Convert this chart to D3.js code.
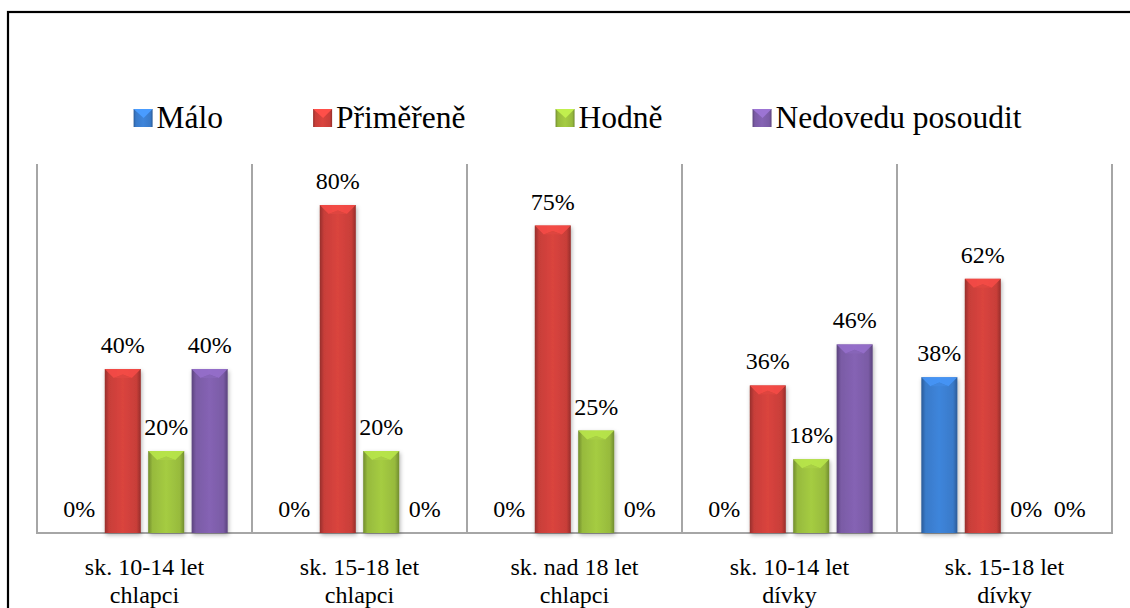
<!DOCTYPE html>
<html>
<head>
<meta charset="UTF-8">
<script src="https://d3js.org/d3.v7.min.js"></script>
</head>
<body style="margin:0">
<script>
// data
const categories = [
  ["sk. 10-14 let", "chlapci"],
  ["sk. 15-18 let", "chlapci"],
  ["sk. nad 18 let", "chlapci"],
  ["sk. 10-14 let", "dívky"],
  ["sk. 15-18 let", "dívky"]
];
const seriesNames = ["Málo", "Přiměřeně", "Hodně", "Nedovedu posoudit"];
const malo      = [0, 0, 0, 0, 38];
const primerene = [40, 80, 75, 36, 62];
const hodne     = [20, 20, 25, 18, 0];
const nedovedu  = [40, 0, 0, 46, 0];
const seriesValues = [malo, primerene, hodne, nedovedu];
const colors = ["#3b7ed0", "#cf403b", "#9cc13f", "#7e5eab"];

const W = 1130, H = 608;
const plot = {left: 37, right: 1112, top: 164, bottom: 533};

const svg = d3.select("body").append("svg")
  .attr("width", W).attr("height", H)
  .style("display", "block")
  .style("font-family", "'Liberation Serif'");

const defs = svg.append("defs");
colors.forEach(function (c, i) {
  const g = defs.append("linearGradient").attr("id", "grad" + i)
    .attr("x1", "0%").attr("x2", "100%").attr("y1", "0%").attr("y2", "0%");
  const base = d3.color(c);
  g.append("stop").attr("offset", "0%").attr("stop-color", base.darker(0.9));
  g.append("stop").attr("offset", "12%").attr("stop-color", base.darker(0.1));
  g.append("stop").attr("offset", "50%").attr("stop-color", base.brighter(0.15));
  g.append("stop").attr("offset", "88%").attr("stop-color", base.darker(0.1));
  g.append("stop").attr("offset", "100%").attr("stop-color", base.darker(0.9));
});
const shadow = defs.append("filter").attr("id", "shadow")
  .attr("x", "-30%").attr("y", "-10%").attr("width", "160%").attr("height", "130%");
shadow.append("feDropShadow").attr("dx", 1).attr("dy", 2)
  .attr("stdDeviation", 2).attr("flood-color", "#000").attr("flood-opacity", 0.3);

// outer frame
svg.append("rect")
  .attr("x", 8).attr("y", 12).attr("width", W).attr("height", H + 20)
  .attr("fill", "none").attr("stroke", "#000").attr("stroke-width", 2.2);

// scales
const x0 = d3.scaleBand().domain(d3.range(categories.length))
  .range([plot.left, plot.right]).padding(0);
const x1 = d3.scaleBand().domain(d3.range(seriesNames.length))
  .range([0, x0.bandwidth()]).paddingInner(0.17).paddingOuter(0.56);
const y = d3.scaleLinear().domain([0, 90]).range([plot.bottom, plot.top]);

// vertical separators
const seps = d3.range(categories.length + 1).map(function (i) {
  return i < categories.length ? x0(i) : plot.right;
});
svg.append("g").selectAll("line").data(seps).enter().append("line")
  .attr("stroke", "#a6a6a6").attr("stroke-width", 2)
  .attr("x1", d => d).attr("x2", d => d)
  .attr("y1", plot.top).attr("y2", plot.bottom);

// baseline
svg.append("line")
  .attr("stroke", "#a6a6a6").attr("stroke-width", 2)
  .attr("x1", plot.left - 1).attr("x2", plot.right + 1)
  .attr("y1", plot.bottom).attr("y2", plot.bottom);

// bars
const rows = [];
categories.forEach(function (c, ci) {
  seriesValues.forEach(function (vals, si) {
    rows.push({ci: ci, si: si, v: vals[ci]});
  });
});

const bars = svg.append("g").selectAll("g")
  .data(rows.filter(d => d.v > 0)).enter().append("g")
  .attr("filter", "url(#shadow)");

bars.append("rect")
  .attr("x", d => x0(d.ci) + x1(d.si))
  .attr("y", d => y(d.v))
  .attr("width", x1.bandwidth())
  .attr("height", d => plot.bottom - y(d.v))
  .attr("fill", d => "url(#grad" + d.si + ")");

// bevelled top
const bev = 9;
bars.append("polygon")
  .attr("points", function (d) {
    const xl = x0(d.ci) + x1(d.si), xr = xl + x1.bandwidth(), yt = y(d.v);
    const xm = (xl + xr) / 2;
    return [[xl, yt], [xr, yt], [xr - bev, yt + bev], [xm, yt + bev * 0.6], [xl + bev, yt + bev]].join(" ");
  })
  .attr("fill", d => d3.color(colors[d.si]).brighter(0.5))
  .attr("opacity", 0.85);
bars.append("polygon")
  .attr("points", function (d) {
    const xl = x0(d.ci) + x1(d.si), xr = xl + x1.bandwidth(), yt = y(d.v);
    const xm = (xl + xr) / 2;
    return [[xl + bev, yt + bev], [xm, yt + bev * 0.6], [xr - bev, yt + bev]].join(" ");
  })
  .attr("fill", d => d3.color(colors[d.si]).brighter(0.2));

// value labels
svg.append("g").selectAll("text").data(rows).enter().append("text")
  .style("font-family", "'Liberation Serif'")
  .style("font-size", "24px")
  .attr("fill", "#000")
  .attr("text-anchor", "middle")
  .attr("x", d => x0(d.ci) + x1(d.si) + x1.bandwidth() / 2)
  .attr("y", d => y(d.v) - 16)
  .text(d => d.v + "%");

// category labels
const cats = svg.append("g").selectAll("text").data(categories).enter().append("text")
  .style("font-family", "'Liberation Serif'")
  .style("font-size", "24px")
  .attr("fill", "#000")
  .attr("text-anchor", "middle")
  .attr("x", (d, i) => x0(i) + x0.bandwidth() / 2)
  .attr("y", 575);
cats.selectAll("tspan").data(d => d).enter().append("tspan")
  .attr("x", function () { return d3.select(this.parentNode).attr("x"); })
  .attr("dy", (d, i) => i === 0 ? 0 : 28)
  .text(d => d);

// legend
const legend = svg.append("g");
const items = legend.selectAll("g").data(seriesNames).enter().append("g");
items.append("rect")
  .attr("x", 0).attr("y", -19).attr("width", 19).attr("height", 18)
  .attr("fill", (d, i) => "url(#grad" + i + ")");
items.append("polygon")
  .attr("points", "0,-19 19,-19 10,-10")
  .attr("fill", (d, i) => d3.color(colors[i]).brighter(0.6));
items.append("text")
  .style("font-family", "'Liberation Serif'")
  .style("font-size", "31.5px")
  .attr("fill", "#000")
  .attr("x", 23).attr("y", 0).text(d => d);

const gap = 90;
let cx = 0;
const widths = [];
items.each(function () {
  widths.push(23 + this.querySelector("text").getComputedTextLength());
});
items.attr("transform", function (d, i) {
  const t = "translate(" + cx + ",0)";
  cx += widths[i] + gap;
  return t;
});
const total = cx - gap;
legend.attr("transform", "translate(" + ((plot.left + plot.right) / 2 - total / 2 + 3) + ",128)");
</script>
</body>
</html>
